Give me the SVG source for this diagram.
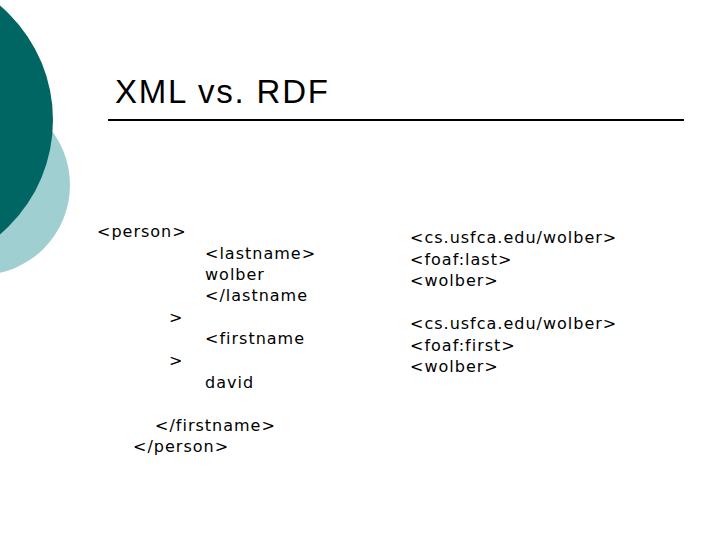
<svg xmlns="http://www.w3.org/2000/svg" width="720" height="540" viewBox="0 0 720 540">
<style>
.t{font-family:"DejaVu Sans",Verdana,sans-serif;font-size:16px;letter-spacing:1px;fill:#000}
</style>
<rect width="720" height="540" fill="#fff"/>
<circle cx="-20" cy="185" r="90" fill="#9fcfd0"/>
<circle cx="-97" cy="120" r="150" fill="#006663"/>
<text x="115" y="103" font-family="Liberation Sans,Arial,sans-serif" font-size="33" letter-spacing="1.8" fill="#000">XML vs. RDF</text>
<line x1="108" y1="120" x2="684" y2="120" stroke="#000" stroke-width="2"/>
<g id="xml">
<text class="t" x="97" y="237">&lt;person&gt;</text>
<text class="t" x="205" y="259">&lt;lastname&gt;</text>
<text class="t" x="205" y="280">wolber</text>
<text class="t" x="205" y="301">&lt;/lastname</text>
<text class="t" x="169" y="323">&gt;</text>
<text class="t" x="205" y="344">&lt;firstname</text>
<text class="t" x="169" y="366">&gt;</text>
<text class="t" x="205" y="388">david</text>
<text class="t" x="155" y="431">&lt;/firstname&gt;</text>
<text class="t" x="133" y="452">&lt;/person&gt;</text>
</g>
<g id="rdf">
<text class="t" x="410" y="243">&lt;cs.usfca.edu/wolber&gt;</text>
<text class="t" x="410" y="265">&lt;foaf:last&gt;</text>
<text class="t" x="410" y="286">&lt;wolber&gt;</text>
<text class="t" x="410" y="329">&lt;cs.usfca.edu/wolber&gt;</text>
<text class="t" x="410" y="351">&lt;foaf:first&gt;</text>
<text class="t" x="410" y="372">&lt;wolber&gt;</text>
</g>
</svg>
